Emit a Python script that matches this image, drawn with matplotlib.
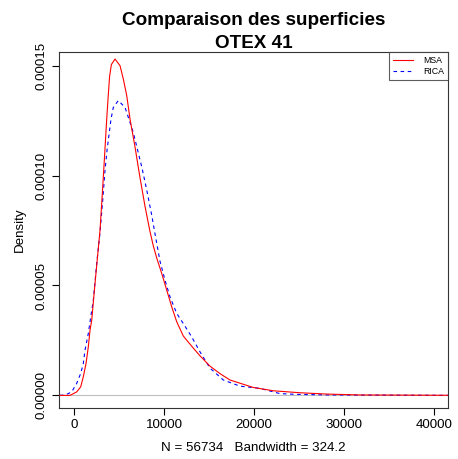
import matplotlib.pyplot as plt
from matplotlib.lines import Line2D

plt.rcParams['font.family'] = ['Liberation Sans', 'DejaVu Sans']

# density estimates (surface, density) for both sources
msa_x = [-1556, -444, 300, 744, 1033, 1333, 1589, 1778, 1967, 2333, 2889, 3189,
         3367, 3633, 3780, 3950, 4150, 4556, 5111, 5478, 5856, 6222, 6778, 7333,
         7889, 8444, 8811, 9189, 9744, 10300, 10856, 11411, 12144, 13256,
         14000, 15111, 16222, 17333, 19922, 22144, 25111, 28078, 31778, 41555]
msa_y = [0.0, 0.0, 1.6e-6, 3.9e-6, 8.5e-6, 14.5e-6, 22.1e-6, 29.7e-6, 34.2e-6,
         51.0e-6, 75.1e-6, 94.8e-6, 107.0e-6, 125.7e-6, 135.0e-6, 145.0e-6,
         150.5e-6, 153.0e-6, 150.0e-6, 143.9e-6, 136.4e-6, 125.7e-6, 113.0e-6,
         99.0e-6, 86.0e-6, 74.5e-6, 68.0e-6, 62.5e-6, 55.5e-6, 47.9e-6,
         40.3e-6, 33.5e-6, 27.0e-6, 21.5e-6, 18.0e-6, 13.3e-6, 9.9e-6, 7.0e-6,
         3.6e-6, 2.1e-6, 1.2e-6, 0.6e-6, 0.2e-6, 0.05e-6]

rica_x = [-1556, -1000, -256, 300, 744, 1033, 1222, 1589, 1889, 2144, 2556, 2889,
          3189, 3444, 3667, 4111, 4367, 4922, 5667, 6033, 6589, 7522, 8078, 8633,
          9000, 9556, 10111, 10667, 11411, 12144, 13078, 14000, 15111, 16589, 18444,
          20667, 22889, 24778, 28444, 41555]
rica_y = [0.05e-6, 0.1e-6, 1.6e-6, 5.5e-6, 10.0e-6, 14.5e-6, 20.6e-6, 28.2e-6,
          36.5e-6, 43.3e-6, 61.5e-6, 74.2e-6, 88.8e-6, 102.4e-6, 111.5e-6, 125.7e-6,
          131.0e-6, 134.1e-6, 131.0e-6, 126.5e-6, 119.5e-6, 104.0e-6, 93.5e-6,
          82.0e-6, 73.5e-6, 61.0e-6, 52.4e-6, 44.8e-6, 37.3e-6, 32.7e-6, 26.6e-6,
          19.8e-6, 12.4e-6, 7.0e-6, 4.2e-6, 3.2e-6, 0.8e-6, 0.45e-6, 0.2e-6, 0.02e-6]

x_ticks = [0, 10000, 20000, 30000, 40000]
y_ticks = [0.0, 0.00005, 0.00010, 0.00015]
y_tick_labels = ["0.00000", "0.00005", "0.00010", "0.00015"]

W, H = 458, 459
fig = plt.figure(figsize=(W / 100, H / 100), dpi=100)
ax = fig.add_axes([59 / W, (H - 407.7) / H, (448 - 59) / W, (407.7 - 52) / H])

ax.axhline(0, color='#bebebe', lw=0.8, zorder=1)
ax.plot(msa_x, msa_y, color='#ff0000', lw=0.8, zorder=3)
ax.plot(rica_x, rica_y, color='#0000ff', lw=0.8, dashes=(3.2, 3.2), zorder=2)

ax.set_xlim(-1670, 41560)
ax.set_ylim(-5.6e-6, 0.0001562)
ax.set_xticks(x_ticks)
ax.set_xticklabels([str(v) for v in x_ticks])
ax.set_yticks(y_ticks)
ax.set_yticklabels(y_tick_labels, rotation=90, va='center')
ax.tick_params(direction='out', length=5, width=0.8, labelsize=9.6, pad=3)
for s in ax.spines.values():
    s.set_linewidth(0.8)
    s.set_color('#333333')

ax.set_xlabel("N = 56734   Bandwidth = 324.2", fontsize=9.6, labelpad=8)
ax.set_ylabel("Density", fontsize=9.6, labelpad=7)

# two-line bold title, centred over the plot region
cx = (59 + 448) / 2 / W
fig.text(cx, 1 - 25 / H, "Comparaison des superficies", ha='center', va='baseline',
         fontsize=13.6, fontweight='bold')
fig.text(cx, 1 - 48 / H, "OTEX 41", ha='center', va='baseline',
         fontsize=13.6, fontweight='bold')

handles = [Line2D([], [], color='#ff0000', lw=0.8),
           Line2D([], [], color='#0000ff', lw=0.8, dashes=(3.2, 3.2))]
leg = ax.legend(handles, ["MSA", "RICA"], loc='upper right', fontsize=6.3,
                frameon=True, fancybox=False, borderaxespad=0, handlelength=2.3,
                handletextpad=1.1, borderpad=0.45, labelspacing=0.25)
leg.get_frame().set_edgecolor('#333333')
leg.get_frame().set_linewidth(0.8)

fig.savefig("out.png", dpi=100)
